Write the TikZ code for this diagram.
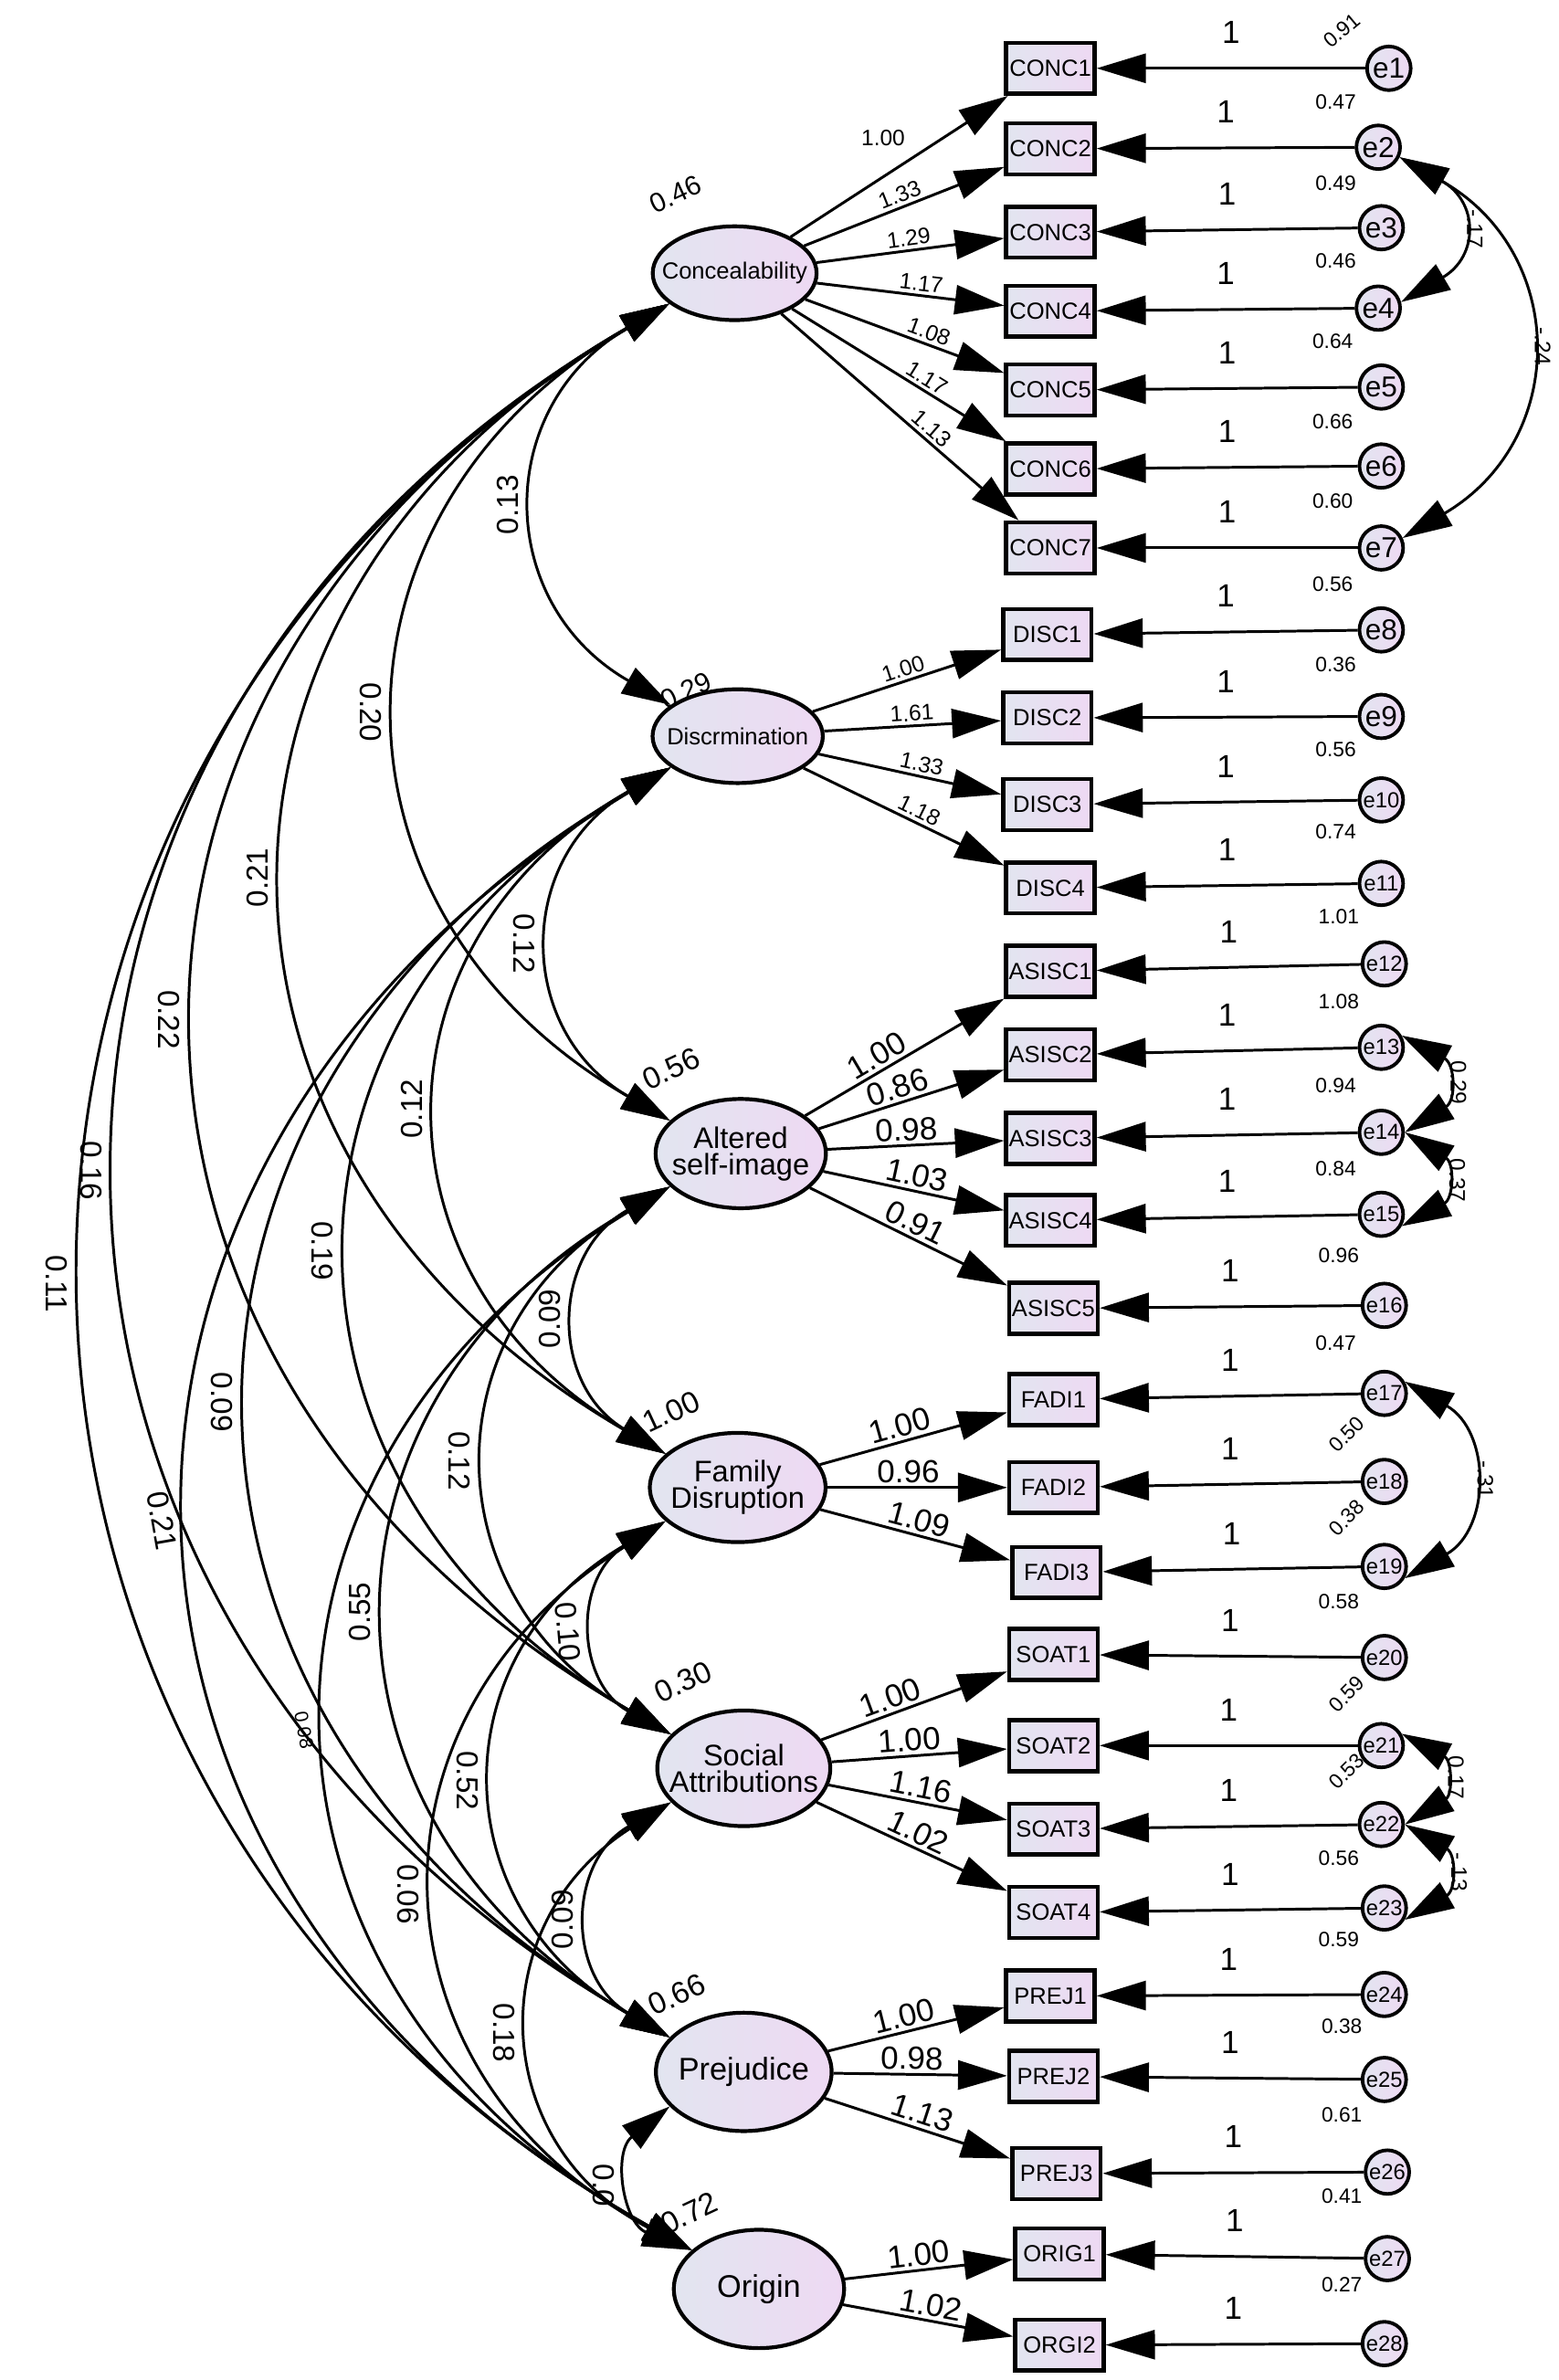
\documentclass[tikz,border=0pt]{standalone}
\usepackage{fontspec}
\setmainfont{Liberation Sans}
\usetikzlibrary{shapes.geometric,arrows.meta,positioning}
\definecolor{lavL}{RGB}{226,229,240}
\definecolor{lavR}{RGB}{238,217,243}
\newcommand{\fsz}[1]{\fontsize{#1}{#1}\selectfont}

\begin{document}
\begin{tikzpicture}[x=0.1667mm,y=0.1667mm,>={Triangle[length=5.4mm,width=3.2mm]},line width=0.85pt]
\tikzstyle{lat}=[ellipse,draw,line width=1.2pt,left color=lavL,right color=lavR,inner sep=0pt]
\tikzstyle{ind}=[draw,line width=1.3pt,left color=lavL,right color=lavR,minimum width=9.7mm,minimum height=5.6mm,inner sep=0pt,font=\fsz{7.3}]
\tikzstyle{err}=[circle,draw,line width=1.1pt,left color=lavL,right color=lavR,minimum size=4.8mm,inner sep=0pt,font=\fsz{9}]
\tikzstyle{arr}=[->]
\tikzstyle{cov}=[<->,looseness=1.3]
\tikzstyle{ecov}=[<->,looseness=1.6]
\tikzstyle{ld}=[font=\fsz{7},sloped,above,inner sep=1pt]
\tikzstyle{ldb}=[font=\fsz{10},sloped,above,inner sep=1pt]
\tikzstyle{one}=[font=\fsz{10},above=4pt,pos=.5]
\tikzstyle{evl}=[font=\fsz{6.5},inner sep=0pt]
\tikzstyle{lvl}=[font=\fsz{9.5},rotate=25,inner sep=0pt]
\tikzstyle{cvl}=[font=\fsz{9.5},pos=.5,inner sep=5.5pt]
\tikzstyle{ecl}=[font=\fsz{7},pos=.5,inner sep=2pt,rotate=-90,anchor=south]
\useasboundingbox (0,0) rectangle (1027,-1568);

% latent factors
\node[lat,minimum width=18mm,minimum height=10.3mm,label={[font=\fsz{7.3}]center:Concealability}] (conc) at (484,-180) {};
\node[lat,minimum width=18.7mm,minimum height=10.3mm,label={[font=\fsz{7.3}]center:Discrmination}] (disc) at (486,-485) {};
\node[lat,minimum width=18.7mm,minimum height=12mm,label={[font=\fsz{9.3},align=center]center:Altered\\[-1pt]self-image}] (alt) at (488,-760) {};
\node[lat,minimum width=19.3mm,minimum height=12mm,label={[font=\fsz{9.3},align=center]center:Family\\[-1pt]Disruption}] (fam) at (486,-980) {};
\node[lat,minimum width=19mm,minimum height=12.7mm,label={[font=\fsz{9.3},align=center]center:Social\\[-1pt]Attributions}] (soc) at (490,-1165) {};
\node[lat,minimum width=19.3mm,minimum height=13mm,label={[font=\fsz{9.8}]center:Prejudice}] (prej) at (490,-1365) {};
\node[lat,minimum width=18.7mm,minimum height=13mm,label={[font=\fsz{9.8}]center:Origin}] (orig) at (500,-1508) {};

% indicators
\node[ind] (c1) at (692,-45) {CONC1};  \node[ind] (c2) at (692,-98) {CONC2};
\node[ind] (c3) at (692,-153) {CONC3}; \node[ind] (c4) at (692,-205) {CONC4};
\node[ind] (c5) at (692,-257) {CONC5}; \node[ind] (c6) at (692,-309) {CONC6};
\node[ind] (c7) at (692,-361) {CONC7};
\node[ind] (d1) at (690,-418) {DISC1}; \node[ind] (d2) at (690,-473) {DISC2};
\node[ind] (d3) at (690,-530) {DISC3}; \node[ind] (d4) at (692,-585) {DISC4};
\node[ind] (a1) at (692,-640) {ASISC1}; \node[ind] (a2) at (692,-695) {ASISC2};
\node[ind] (a3) at (692,-750) {ASISC3}; \node[ind] (a4) at (692,-804) {ASISC4};
\node[ind] (a5) at (694,-862) {ASISC5};
\node[ind] (f1) at (694,-922) {FADI1}; \node[ind] (f2) at (694,-980) {FADI2};
\node[ind] (f3) at (696,-1036) {FADI3};
\node[ind] (s1) at (694,-1090) {SOAT1}; \node[ind] (s2) at (694,-1150) {SOAT2};
\node[ind] (s3) at (694,-1205) {SOAT3}; \node[ind] (s4) at (694,-1260) {SOAT4};
\node[ind] (p1) at (692,-1315) {PREJ1}; \node[ind] (p2) at (694,-1368) {PREJ2};
\node[ind] (p3) at (696,-1432) {PREJ3};
\node[ind] (o1) at (698,-1485) {ORIG1}; \node[ind] (o2) at (698,-1545) {ORGI2};

% error terms
\node[err] (e1) at (915,-45) {e1};   \node[err] (e2) at (908,-97) {e2};
\node[err] (e3) at (910,-150) {e3};  \node[err] (e4) at (908,-203) {e4};
\node[err] (e5) at (910,-255) {e5};  \node[err] (e6) at (910,-307) {e6};
\node[err] (e7) at (910,-361) {e7};  \node[err] (e8) at (910,-415) {e8};
\node[err] (e9) at (910,-472) {e9};
\tikzstyle{err}+=[font=\fsz{6.8}]
\node[err] (e10) at (910,-527) {e10}; \node[err] (e11) at (910,-582) {e11};
\node[err] (e12) at (912,-635) {e12}; \node[err] (e13) at (910,-690) {e13};
\node[err] (e14) at (910,-746) {e14}; \node[err] (e15) at (910,-800) {e15};
\node[err] (e16) at (912,-860) {e16}; \node[err] (e17) at (912,-918) {e17};
\node[err] (e18) at (912,-976) {e18}; \node[err] (e19) at (912,-1032) {e19};
\node[err] (e20) at (912,-1092) {e20}; \node[err] (e21) at (910,-1150) {e21};
\node[err] (e22) at (910,-1202) {e22}; \node[err] (e23) at (912,-1257) {e23};
\node[err] (e24) at (912,-1314) {e24}; \node[err] (e25) at (912,-1370) {e25};
\node[err] (e26) at (914,-1431) {e26}; \node[err] (e27) at (914,-1488) {e27};
\node[err] (e28) at (912,-1544) {e28};

% loadings
\draw[arr] (conc)--node[font=\fsz{7},pos=.7,left=4mm,inner sep=0pt]{1.00}(c1);
\draw[arr] (conc)--node[ld,pos=.5]{1.33}(c2); \draw[arr] (conc)--node[ld,pos=.5]{1.29}(c3);
\draw[arr] (conc)--node[ld,pos=.55]{1.17}(c4); \draw[arr] (conc)--node[ld,pos=.6]{1.08}(c5);
\draw[arr] (conc)--node[ld,pos=.6]{1.17}(c6); \draw[arr] (conc)--node[ld,pos=.6]{1.13}(c7);
\draw[arr] (disc)--node[ld,pos=.5]{1.00}(d1); \draw[arr] (disc)--node[ld,pos=.5]{1.61}(d2);
\draw[arr] (disc)--node[ld,pos=.55]{1.33}(d3); \draw[arr] (disc)--node[ld,pos=.55]{1.18}(d4);
\draw[arr] (alt)--node[ldb,pos=.4]{1.00}(a1); \draw[arr] (alt)--node[ldb,pos=.45]{0.86}(a2);
\draw[arr] (alt)--node[ldb,pos=.45]{0.98}(a3); \draw[arr] (alt)--node[ldb,pos=.5]{1.03}(a4);
\draw[arr] (alt)--node[ldb,pos=.5]{0.91}(a5);
\draw[arr] (fam)--node[ldb,pos=.45]{1.00}(f1); \draw[arr] (fam)--node[ldb,pos=.45]{0.96}(f2);
\draw[arr] (fam)--node[ldb,pos=.5]{1.09}(f3);
\draw[arr] (soc)--node[ldb,pos=.4]{1.00}(s1); \draw[arr] (soc)--node[ldb,pos=.45]{1.00}(s2);
\draw[arr] (soc)--node[ldb,pos=.5]{1.16}(s3); \draw[arr] (soc)--node[ldb,pos=.5]{1.02}(s4);
\draw[arr] (prej)--node[ldb,pos=.45]{1.00}(p1); \draw[arr] (prej)--node[ldb,pos=.45]{0.98}(p2);
\draw[arr] (prej)--node[ldb,pos=.5]{1.13}(p3);
\draw[arr] (orig)--node[ldb,pos=.45]{1.00}(o1); \draw[arr] (orig)--node[ldb,pos=.5]{1.02}(o2);

% error paths
\draw[arr] (e1)--node[one]{1}(c1); \draw[arr] (e2)--node[one]{1}(c2);
\draw[arr] (e3)--node[one]{1}(c3); \draw[arr] (e4)--node[one]{1}(c4);
\draw[arr] (e5)--node[one]{1}(c5); \draw[arr] (e6)--node[one]{1}(c6);
\draw[arr] (e7)--node[one]{1}(c7); \draw[arr] (e8)--node[one]{1}(d1);
\draw[arr] (e9)--node[one]{1}(d2); \draw[arr] (e10)--node[one]{1}(d3);
\draw[arr] (e11)--node[one]{1}(d4); \draw[arr] (e12)--node[one]{1}(a1);
\draw[arr] (e13)--node[one]{1}(a2); \draw[arr] (e14)--node[one]{1}(a3);
\draw[arr] (e15)--node[one]{1}(a4); \draw[arr] (e16)--node[one]{1}(a5);
\draw[arr] (e17)--node[one]{1}(f1); \draw[arr] (e18)--node[one]{1}(f2);
\draw[arr] (e19)--node[one]{1}(f3); \draw[arr] (e20)--node[one]{1}(s1);
\draw[arr] (e21)--node[one]{1}(s2); \draw[arr] (e22)--node[one]{1}(s3);
\draw[arr] (e23)--node[one]{1}(s4); \draw[arr] (e24)--node[one]{1}(p1);
\draw[arr] (e25)--node[one]{1}(p2); \draw[arr] (e26)--node[one]{1}(p3);
\draw[arr] (e27)--node[one]{1}(o1); \draw[arr] (e28)--node[one]{1}(o2);

% error variances
\node[evl,rotate=40] (v1) at (884,-20) {0.91}; \node[evl] (v2) at (880,-67) {0.47};
\node[evl] (v3) at (880,-121) {0.49}; \node[evl] (v4) at (880,-172) {0.46};
\node[evl] (v5) at (878,-225) {0.64}; \node[evl] (v6) at (878,-278) {0.66};
\node[evl] (v7) at (878,-330) {0.60}; \node[evl] (v8) at (878,-385) {0.56};
\node[evl] (v9) at (880,-438) {0.36}; \node[evl] (v10) at (880,-494) {0.56};
\node[evl] (v11) at (880,-548) {0.74}; \node[evl] (v12) at (882,-604) {1.01};
\node[evl] (v13) at (882,-660) {1.08}; \node[evl] (v14) at (880,-715) {0.94};
\node[evl] (v15) at (880,-770) {0.84}; \node[evl] (v16) at (882,-827) {0.96};
\node[evl] (v17) at (880,-885) {0.47}; \node[evl,rotate=45] (v18) at (887,-945) {0.50};
\node[evl,rotate=45] (v19) at (887,-1000) {0.38}; \node[evl] (v20) at (882,-1055) {0.58};
\node[evl,rotate=45] (v21) at (887,-1116) {0.59}; \node[evl,rotate=45] (v22) at (887,-1167) {0.53};
\node[evl] (v23) at (882,-1224) {0.56}; \node[evl] (v24) at (882,-1278) {0.59};
\node[evl] (v25) at (884,-1335) {0.38}; \node[evl] (v26) at (884,-1393) {0.61};
\node[evl] (v27) at (884,-1447) {0.41}; \node[evl] (v28) at (884,-1505) {0.27};

% factor variances
\node[lvl,font=\fsz{8.5}] (lv1) at (445,-128) {0.46}; \node[lvl,font=\fsz{8.5}] (lv2) at (452,-455) {0.29};
\node[lvl] (lv3) at (442,-704) {0.56}; \node[lvl] (lv4) at (442,-930) {1.00};
\node[lvl] (lv5) at (450,-1108) {0.30}; \node[lvl] (lv6) at (446,-1314) {0.66};
\node[lvl] (lv7) at (454,-1458) {0.72};

% error covariances
\draw[ecov] (e2.-25) to[bend left=60] node[ecl]{-.17} (e4.15);
\draw[cov] (e2.-25) to[bend left=60] node[ecl]{-.24} (e7.25);
\draw[ecov] (e13.30) to[bend left=60] node[ecl]{0.29} (e14.0);
\draw[ecov] (e14.0) to[bend left=60] node[ecl]{0.37} (e15.-30);
\draw[cov] (e17.30) to[bend left=60] node[ecl]{-.31} (e19.-30);
\draw[ecov] (e21.30) to[bend left=60] node[ecl]{0.17} (e22.0);
\draw[ecov] (e22.0) to[bend left=60] node[ecl]{-.13} (e23.-30);

% factor covariances
\draw[cov] (conc.205) to[bend right=60] node[cvl,rotate=90,anchor=south]{0.13} (disc.155);
\draw[cov] (conc.205) to[bend right=60] node[cvl,rotate=-90,anchor=north]{0.20} (alt.155);
\draw[cov] (conc.205) to[bend right=60] node[cvl,rotate=90,anchor=south]{0.21} (fam.155);
\draw[cov] (conc.205) to[bend right=60] node[cvl,rotate=-90,anchor=north]{0.22} (soc.155);
\draw[cov,looseness=1.25] (conc.205) to[bend right=60] node[cvl,rotate=-90,anchor=north]{0.16} (prej.155);
\draw[cov,looseness=1.2] (conc.205) to[bend right=60] node[cvl,rotate=-90,anchor=north]{0.11} (orig.150);
\draw[cov] (disc.205) to[bend right=60] node[cvl,rotate=-90,anchor=north]{0.12} (alt.155);
\draw[cov] (disc.205) to[bend right=60] node[cvl,rotate=90,anchor=south]{0.12} (fam.155);
\draw[cov] (disc.205) to[bend right=60] node[cvl,rotate=-90,anchor=north]{0.19} (soc.155);
\draw[cov] (disc.205) to[bend right=60] node[cvl,rotate=-90,anchor=north]{0.09} (prej.155);
\draw[cov] (disc.205) to[bend right=60] node[cvl,rotate=-80,anchor=north]{0.21} (orig.150);
\draw[cov] (alt.205) to[bend right=60] node[cvl,rotate=90,anchor=south]{0.09} (fam.155);
\draw[cov] (alt.205) to[bend right=60] node[cvl,rotate=-90,anchor=north]{0.12} (soc.155);
\draw[cov] (alt.205) to[bend right=60] node[cvl,rotate=90,anchor=south]{0.55} (prej.155);
\draw[cov] (alt.205) to[bend right=60] node[cvl,rotate=-80,anchor=north,font=\fsz{6}]{0.08} (orig.150);
\draw[cov] (fam.205) to[bend right=60] node[cvl,rotate=-85,anchor=north]{0.10} (soc.155);
\draw[cov] (fam.205) to[bend right=60] node[cvl,rotate=-90,anchor=north]{0.52} (prej.155);
\draw[cov] (fam.205) to[bend right=60] node[cvl,rotate=-90,anchor=north]{0.06} (orig.150);
\draw[cov] (soc.205) to[bend right=60] node[cvl,rotate=90,anchor=south]{0.09} (prej.155);
\draw[cov] (soc.205) to[bend right=60] node[cvl,rotate=-90,anchor=north]{0.18} (orig.150);
\draw[cov] (prej.205) to[bend right=60] node[cvl,rotate=-90,anchor=north]{0.0} (orig.150);
\end{tikzpicture}
\end{document}
